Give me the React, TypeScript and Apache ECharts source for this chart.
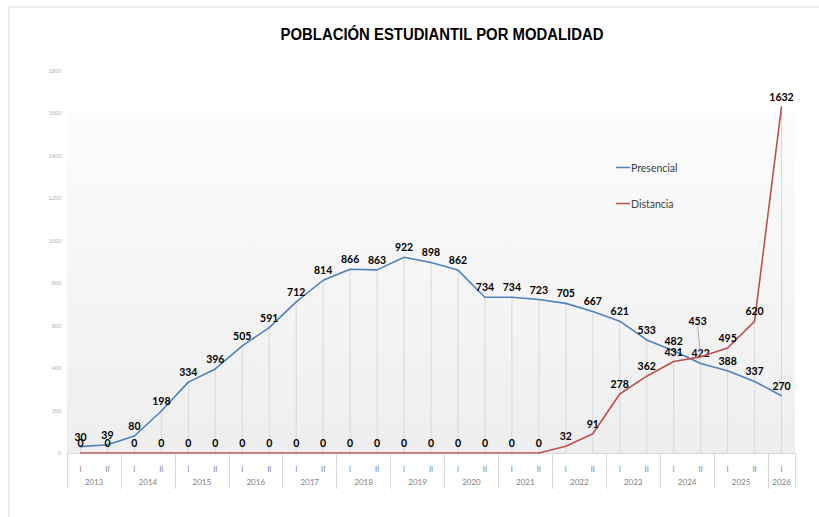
import React, { useEffect, useRef } from "react";
import * as echarts from "echarts";

const years = ["2013","2014","2015","2016","2017","2018","2019","2020","2021","2022","2023","2024","2025","2026"];
const halves = ["I","II","I","II","I","II","I","II","I","II","I","II","I","II","I","II","I","II","I","II","I","II","I","II","I","II","I"];
const presencial = [30,39,80,198,334,396,505,591,712,814,866,863,922,898,862,734,734,723,705,667,621,533,482,422,388,337,270];
const distancia = [0,0,0,0,0,0,0,0,0,0,0,0,0,0,0,0,0,0,32,91,278,362,431,453,495,620,1632];
const yTicks = [0,200,400,600,800,1000,1200,1400,1600,1800];

export default function App() {
  const ref = useRef<HTMLDivElement>(null);
  useEffect(() => {
    const chart = echarts.init(ref.current!, null, { renderer: "svg" });
    const cats = halves.map((h, i) => `${h}-${i}`);
    const drop = presencial.map((v, i) => Math.max(v, distancia[i]));
    const sepTicks: number[] = [];
    for (let i = 0; i <= cats.length; i += 2) sepTicks.push(i);
    if (sepTicks[sepTicks.length - 1] !== cats.length) sepTicks.push(cats.length);
    const yearCenters = years.map((_, i) => Math.min(2 * i + 1, (2 * i + cats.length) / 2));
    const moved = distancia.indexOf(453);
    const labelFont = { fontFamily: "Lato", fontWeight: "bold" as const, fontSize: 10.5, color: "#000" };
    chart.setOption({
      animation: false,
      backgroundColor: "#fff",
      graphic: [
        { type: "rect", shape: { x: 9, y: 7, width: 840, height: 540 }, style: { fill: "none", stroke: "#d9d9d9", lineWidth: 1 }, silent: true },
        {
          type: "text", x: 442, y: 34, scaleX: 0.875, silent: true,
          style: {
            text: "POBLACIÓN ESTUDIANTIL POR MODALIDAD",
            font: "bold 17px 'Liberation Sans', Arial",
            fill: "#000", align: "center", verticalAlign: "middle",
          },
        },
      ],
      legend: {
        data: [
          { name: "Presencial", icon: "rect", itemStyle: { color: "#4f81bd" } },
          { name: "Distancia", icon: "rect", itemStyle: { color: "#c0504d" } },
        ],
        orient: "vertical",
        left: 611,
        top: 157,
        itemWidth: 14,
        itemHeight: 1.5,
        itemGap: 25,
        textStyle: { fontFamily: "Lato", fontSize: 10.5, color: "#404040", padding: [0, 0, 0, -4] },
      },
      grid: {
        left: 67, right: 24, top: 71, bottom: 64,
        show: true, borderWidth: 0,
        backgroundColor: new echarts.graphic.LinearGradient(0, 0, 0, 1, [
          { offset: 0, color: "#ffffff" },
          { offset: 0.11, color: "#ffffff" },
          { offset: 0.111, color: "#fcfcfc" },
          { offset: 1, color: "#eeeeee" },
        ]),
      },
      xAxis: [
        {
          type: "category",
          data: cats,
          boundaryGap: true,
          axisLine: { lineStyle: { color: "#d9d9d9" } },
          axisTick: { show: false },
          axisLabel: { formatter: (v: string) => v.split("-")[0], fontFamily: "Lato", fontSize: 7.5, color: "#808080", margin: 12, interval: 0 },
          splitLine: { show: false },
        },
        {
          type: "value",
          min: 0,
          max: cats.length,
          position: "bottom",
          axisLine: { show: false },
          splitLine: { show: false },
          axisTick: { show: true, customValues: sepTicks, length: 36, lineStyle: { color: "#d9d9d9" } },
          axisLabel: {
            customValues: yearCenters,
            formatter: (v: number) => years[Math.floor(v / 2)],
            fontFamily: "Lato", fontSize: 8, color: "#808080", margin: 25,
          },
        },
      ],
      yAxis: {
        type: "value",
        min: 0,
        max: yTicks[yTicks.length - 1],
        interval: yTicks[1] - yTicks[0],
        axisLine: { show: false },
        axisTick: { show: false },
        splitLine: { show: false },
        axisLabel: { formatter: (v: number) => String(v), fontSize: 5.5, color: "#b0b0b0", margin: 6 },
      },
      series: [
        {
          name: "drop",
          type: "bar",
          data: drop,
          barWidth: 1,
          itemStyle: { color: "#d9d9d9" },
          silent: true,
          z: 1,
        },
        {
          name: "Presencial",
          type: "line",
          data: presencial,
          symbol: "circle",
          symbolSize: 1,
          showSymbol: true,
          lineStyle: { color: "#4f81bd", width: 1.6 },
          itemStyle: { color: "#4f81bd" },
          label: { show: true, position: "top", distance: 4, ...labelFont },
          z: 3,
        },
        {
          name: "Distancia",
          type: "line",
          data: distancia.map((v, i) =>
            i === moved
              ? { value: v, labelLine: { show: true, lineStyle: { color: "#8c8c8c", width: 0.7 } } }
              : v
          ),
          symbol: "circle",
          symbolSize: 1,
          showSymbol: true,
          lineStyle: { color: "#c0504d", width: 1.6 },
          itemStyle: { color: "#c0504d" },
          label: { show: true, position: "top", distance: 4, ...labelFont },
          labelLine: { show: false },
          labelLayout: (p: any) => (p.dataIndex === moved ? { dy: -26, dx: -3 } : {}),
          z: 4,
        },
      ],
    });
    return () => chart.dispose();
  }, []);
  return <div ref={ref} style={{ position: "absolute", left: 0, top: 0, width: 819, height: 517 }} />;
}
